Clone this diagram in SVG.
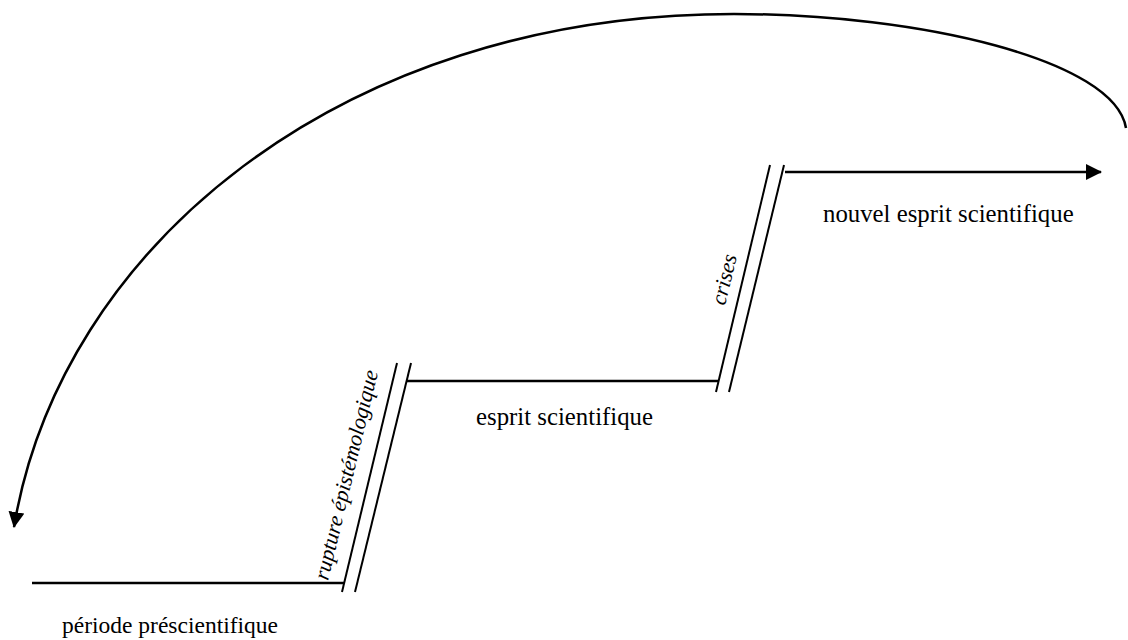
<svg xmlns="http://www.w3.org/2000/svg" width="1128" height="640" viewBox="0 0 1128 640">
<style>
.ln{stroke:#000;stroke-width:2.5;fill:none}
.tk{stroke:#000;stroke-width:2;fill:none}
.t{font-family:"Liberation Serif","Times New Roman",serif;font-size:23.5px;fill:#000}
.big{font-size:24.8px}
.it{font-style:italic;font-size:22px}
</style>
<defs>
<marker id="ah" markerUnits="userSpaceOnUse" viewBox="0 0 16 16" refX="15" refY="8" markerWidth="16" markerHeight="16" orient="auto">
<path d="M0,0 L16,8 L0,16 z" fill="#000"/>
</marker>
</defs>
<rect width="1128" height="640" fill="#fff"/>
<g id="connectors">
<path class="ln" d="M1126,128 C1115,60 920,14 734,14 C338,14 60,250 14,527" marker-end="url(#ah)"/>
<line class="ln" x1="32" y1="583" x2="344" y2="583"/>
<line class="tk" x1="342" y1="592" x2="397" y2="363"/>
<line class="tk" x1="355" y1="592" x2="411" y2="363"/>
<line class="ln" x1="407" y1="381" x2="718" y2="381"/>
<line class="tk" x1="716" y1="392" x2="770" y2="165"/>
<line class="tk" x1="729" y1="392" x2="784" y2="165"/>
<line class="ln" x1="785" y1="172" x2="1101" y2="172" marker-end="url(#ah)"/>
</g>
<g id="n-prescientifique"><text class="t" x="62" y="633">période préscientifique</text></g>
<g id="n-rupture"><text class="t it" transform="translate(328,581) rotate(-76.5)">rupture épistémologique</text></g>
<g id="n-esprit"><text class="t big" x="476" y="425">esprit scientifique</text></g>
<g id="n-crises"><text class="t it" transform="translate(725,306) rotate(-76.5)">crises</text></g>
<g id="n-nouvel"><text class="t big" x="823" y="222">nouvel esprit scientifique</text></g>
</svg>
